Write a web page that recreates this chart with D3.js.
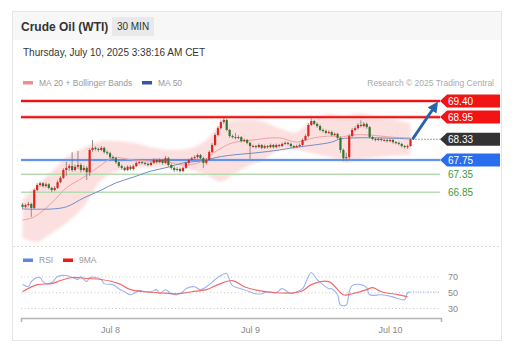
<!DOCTYPE html>
<html><head><meta charset="utf-8">
<script src="https://cdn.jsdelivr.net/npm/d3@7"></script>
<style>body{margin:0;background:#fff;}svg{display:block;font-family:"Liberation Sans",Arial,sans-serif;}</style>
</head><body>
<svg id="c" width="515" height="358"></svg>
<script>
// ---------- DATA ----------
const title = "Crude Oil (WTI)";
const timeframe = "30 MIN";
const stamp = "Thursday, July 10, 2025 3:38:16 AM CET";
const firstCandle = new Date(2025, 6, 7, 9, 0); // 30-min candles
const opens = [66.50,66.44,66.49,66.52,66.41,66.91,67.05,67.10,67.02,67.07,
66.97,66.91,66.97,67.13,67.25,67.47,67.53,67.58,67.47,67.56,
67.61,67.47,67.53,67.41,68.03,68.09,68.06,68.03,68.09,67.97,
67.94,67.83,67.80,67.69,67.58,67.53,67.47,67.56,67.50,67.58,
67.67,67.69,67.67,67.64,67.61,67.67,67.75,67.69,67.75,67.67,
67.80,67.61,67.53,67.47,67.50,67.44,67.53,67.67,67.75,67.80,
67.83,67.89,67.80,67.67,67.75,67.97,68.17,68.45,68.64,68.81,
68.87,68.59,68.42,68.39,68.37,68.39,68.28,68.31,68.23,68.14,
68.14,68.11,68.17,68.09,68.14,68.11,68.17,68.11,68.17,68.14,
68.20,68.23,68.20,68.14,68.11,68.14,68.17,68.31,68.42,68.73,
68.84,68.76,68.70,68.59,68.56,68.51,68.53,68.45,68.48,68.37,
68.03,67.80,67.83,68.42,68.59,68.64,68.73,68.70,68.76,68.67,
68.39,68.34,68.31,68.34,68.31,68.31,68.28,68.31,68.25,68.23,
68.20,68.14,68.11,68.14];
const closes = [66.44,66.49,66.52,66.41,66.91,67.05,67.10,67.02,67.07,66.97,
66.91,66.97,67.13,67.25,67.47,67.53,67.58,67.47,67.56,67.61,
67.47,67.53,67.41,68.03,68.09,68.06,68.03,68.09,67.97,67.94,
67.83,67.80,67.69,67.58,67.53,67.47,67.56,67.50,67.58,67.67,
67.69,67.67,67.64,67.61,67.67,67.75,67.69,67.75,67.67,67.80,
67.61,67.53,67.47,67.50,67.44,67.53,67.67,67.75,67.80,67.83,
67.89,67.80,67.67,67.75,67.97,68.17,68.45,68.64,68.81,68.87,
68.59,68.42,68.39,68.37,68.39,68.28,68.31,68.23,68.14,68.14,
68.11,68.17,68.09,68.14,68.11,68.17,68.11,68.17,68.14,68.20,
68.23,68.20,68.14,68.11,68.14,68.17,68.31,68.42,68.73,68.84,
68.76,68.70,68.59,68.56,68.51,68.53,68.45,68.48,68.37,68.03,
67.80,67.83,68.42,68.59,68.64,68.73,68.70,68.76,68.67,68.39,
68.34,68.31,68.34,68.31,68.31,68.28,68.31,68.25,68.23,68.20,
68.14,68.11,68.14,68.33];
const highs = [66.55,66.53,66.58,66.55,66.95,67.10,67.14,67.13,67.12,67.10,
67.00,67.02,67.18,67.30,67.52,67.70,67.64,67.97,67.62,68.00,
67.66,67.60,67.58,68.08,68.31,68.13,68.10,68.14,68.12,68.02,
67.98,67.88,67.84,67.72,67.62,67.57,67.60,67.60,67.62,67.71,
67.73,67.72,67.70,67.68,67.71,67.80,67.79,67.80,67.78,67.86,
67.84,67.65,67.57,67.55,67.54,67.57,67.71,67.79,67.84,67.88,
67.93,67.92,67.84,67.80,68.02,68.22,68.50,68.69,68.86,68.93,
68.90,68.62,68.46,68.50,68.44,68.42,68.35,68.34,68.26,68.18,
68.17,68.21,68.20,68.18,68.17,68.21,68.20,68.21,68.20,68.24,
68.27,68.26,68.23,68.17,68.18,68.21,68.35,68.47,68.78,68.92,
68.88,68.80,68.74,68.63,68.60,68.58,68.57,68.52,68.51,68.41,
68.07,67.95,68.47,68.64,68.69,68.78,68.86,68.81,68.80,68.70,
68.42,68.37,68.38,68.37,68.35,68.34,68.35,68.34,68.28,68.26,
68.23,68.17,68.18,68.35];
const lows = [66.38,66.40,66.45,66.16,66.38,66.88,67.00,66.98,66.98,66.93,
66.86,66.88,66.94,67.10,67.22,67.30,67.45,67.42,67.43,67.50,
67.40,67.43,67.19,67.30,67.98,68.01,67.98,68.00,67.93,67.89,
67.78,67.75,67.64,67.53,67.48,67.43,67.44,67.46,67.46,67.55,
67.63,67.63,67.60,67.57,67.58,67.63,67.65,67.66,67.62,67.64,
67.56,67.48,67.42,67.43,67.40,67.41,67.50,67.63,67.71,67.76,
67.79,67.76,67.53,67.62,67.72,67.94,68.14,68.41,68.60,68.76,
68.55,68.37,68.35,68.33,68.33,68.24,68.25,68.19,67.78,68.10,
68.07,68.08,68.05,68.06,68.07,68.08,68.07,68.08,68.10,68.11,
68.17,68.16,68.10,68.07,68.08,68.10,68.14,68.28,68.38,68.70,
68.72,68.65,68.55,68.52,68.47,68.48,68.41,68.42,68.33,67.95,
67.72,67.72,67.76,68.38,68.55,68.60,68.66,68.66,68.62,68.35,
68.30,68.27,68.28,68.27,68.27,68.24,68.25,68.21,68.19,68.16,
68.10,68.07,68.06,68.12];

// indicator readings (candle index, price)
const ma20Idx = [0,4,10,15,21,27,31,38,44,50,55,61,67,72,79,88,94,100,106,109,113,119,126,133];
const ma20 = [66.07,66.16,66.55,66.97,67.27,67.61,67.81,67.75,67.72,67.69,67.61,67.69,68.03,68.23,68.31,68.37,68.25,68.37,68.42,68.39,68.45,68.45,68.39,68.37];
const ma50Idx = [0,10,15,21,27,32,38,44,50,55,61,67,72,80,88,94,100,106,109,115,121,133];
const ma50 = [66.38,66.38,66.44,66.69,66.91,67.11,67.27,67.44,67.55,67.67,67.72,67.83,67.89,67.95,68.03,68.11,68.17,68.25,68.34,68.37,68.37,68.34];
const bbUpIdx = [0,5,10,15,21,27,32,38,44,52,58,63,68,75,82,88,94,98,102,105,110,116,122,128,133];
const bbUp = [66.63,67.05,67.42,67.83,68.09,68.28,68.28,68.23,68.11,68.03,68.09,68.31,68.76,68.87,68.84,68.64,68.53,68.78,68.95,69.04,68.98,69.06,68.95,68.87,68.78];
const bbLoIdx = [0,5,10,15,21,27,32,38,47,55,63,68,72,78,82,88,94,102,108,111,114,121,133];
const bbLo = [65.57,65.46,65.71,65.99,66.44,67.19,67.42,67.53,67.55,67.53,67.33,67.14,67.33,67.61,67.72,68.03,68.03,67.89,67.78,67.69,67.75,67.83,67.89];

// key levels
const resistances = [69.40, 68.95];
const lastPrice = 68.33;
const pivot = 67.75;
const supports = [67.35, 66.85];

// RSI readings (candle index, value)
const rsiIdx = [0,2,3,5,6,7,8,10,12,15,16,18,19,20,22,23,25,27,28,31,33,35,37,40,42,44,46,47,49,51,53,55,56,59,61,64,66,68,70,71,72,76,80,82,84,87,89,92,94,96,98,99,101,103,105,106,108,109,111,112,113,116,118,119,123,127,129,131,132,133];
const rsi = [60.7,57.7,64.2,69.4,69.4,64.2,61.6,62.9,70.6,71.9,70.6,68.1,66.8,70.6,64.2,69.4,69.4,66.8,61.6,60.3,55.2,51.3,47.4,52.6,51.3,51.3,53.9,48.7,53.9,48.7,47.4,51.3,55.2,57.7,53.9,60.3,66.8,71.9,74.5,65.5,59.0,53.9,48.7,48.7,51.3,50.0,55.2,48.7,51.3,55.2,70.6,75.8,66.8,60.3,55.2,55.2,47.4,34.5,34.5,51.3,59.0,60.3,56.5,47.4,47.4,44.8,42.3,41.0,50.0,51.0];
const rsiMaIdx = [0,5,10,13,17,22,27,33,37,42,47,53,58,63,67,72,76,81,87,93,96,99,105,110,113,118,120,123,129,132];
const rsiMa = [51.3,60.3,61.6,65.5,69.4,68.1,66.8,61.6,53.9,51.3,50.0,48.7,51.3,53.9,60.3,65.5,57.7,52.6,50.0,50.0,52.6,60.3,64.2,47.4,48.7,53.9,56.5,51.3,47.4,44.8];
const rsiLevels = [70, 50, 30];
const dayTicks = [new Date(2025,6,8), new Date(2025,6,9), new Date(2025,6,10)];

// ---------- DRAW ----------
const svg = d3.select("#c");
const t = i => new Date(firstCandle.getTime() + i * 30 * 60000);
const x = d3.scaleTime().domain([new Date(2025,6,7,8,44), new Date(2025,6,10,8,44)]).range([21, 441]);
const y = d3.scaleLinear().domain([67.75, 69.40]).range([160, 101]);
const yr = d3.scaleLinear().domain([30, 70]).range([308.5, 277]);
const L = 21, R = 440;

// card
svg.append("rect").attr("x",12.5).attr("y",11.5).attr("width",489).attr("height",329).attr("fill","#fff").attr("stroke","#e6e6e6");
svg.append("rect").attr("x",13).attr("y",12).attr("width",488).attr("height",28).attr("fill","#f7f7f7");
svg.append("text").attr("x",21).attr("y",31).attr("font-size",12).attr("font-weight","bold").attr("fill","#333").text(title);
svg.append("rect").attr("x",112).attr("y",17).attr("width",42).attr("height",19).attr("fill","#e9e9e9");
svg.append("text").attr("x",133).attr("y",30).attr("text-anchor","middle").attr("font-size",10).attr("fill","#333").text(timeframe);
svg.append("text").attr("x",23).attr("y",55.5).attr("font-size",10).attr("fill","#333").text(stamp);

// legend
const lg = [{c:"#f38b8b",t:"MA 20 + Bollinger Bands",x:23},{c:"#2d5aa0",t:"MA 50",x:142}];
lg.forEach(d=>{
  svg.append("rect").attr("x",d.x).attr("y",81).attr("width",10).attr("height",3.5).attr("fill",d.c);
  svg.append("text").attr("x",d.x+16).attr("y",86).attr("font-size",8.5).attr("fill","#999").text(d.t);
});
svg.append("text").attr("x",494).attr("y",86).attr("text-anchor","end").attr("font-size",8.5).attr("fill","#aaa").text("Research © 2025 Trading Central");

// defs
const defs = svg.append("defs");
defs.append("filter").attr("id","blur").append("feGaussianBlur").attr("stdDeviation",1.6);

// Bollinger band
const pts = (idx, vals) => idx.map((i,k)=>[x(t(i)), y(vals[k])]);
const up = pts(bbUpIdx, bbUp), lo = pts(bbLoIdx, bbLo).reverse();
const ln = d3.line().curve(d3.curveCatmullRom);
svg.append("path").attr("d", ln(up) + "L" + ln(lo).slice(1) + "Z")
  .attr("fill","#fcdcdc").attr("opacity",0.9).attr("filter","url(#blur)");

// level lines
resistances.forEach(v=>{
  svg.append("line").attr("x1",L).attr("x2",R).attr("y1",y(v)).attr("y2",y(v)).attr("stroke","#ff9a9a").attr("stroke-width",3.2);
  svg.append("line").attr("x1",L).attr("x2",R).attr("y1",y(v)).attr("y2",y(v)).attr("stroke","#f01010").attr("stroke-width",1.8);
});
svg.append("line").attr("x1",L).attr("x2",R).attr("y1",y(pivot)).attr("y2",y(pivot)).attr("stroke","#a9c4f5").attr("stroke-width",2.6);
svg.append("line").attr("x1",L).attr("x2",R).attr("y1",y(pivot)).attr("y2",y(pivot)).attr("stroke","#4d84ee").attr("stroke-width",1.3);
supports.forEach(v=>{
  svg.append("line").attr("x1",L).attr("x2",R).attr("y1",y(v)).attr("y2",y(v)).attr("stroke","#b6dbb0").attr("stroke-width",1.4);
});

// MAs
svg.append("path").attr("d", ln(pts(ma20Idx, ma20))).attr("fill","none").attr("stroke","#f5a0a0").attr("stroke-width",1);
svg.append("path").attr("d", ln(pts(ma50Idx, ma50))).attr("fill","none").attr("stroke","#6f8fc8").attr("stroke-width",1);

// candles
const candles = closes.map((c,i)=>({i, o:opens[i], c, h:highs[i], l:lows[i]}));
const g = svg.append("g");
g.selectAll("line.w").data(candles).join("line")
  .attr("x1",d=>x(t(d.i))).attr("x2",d=>x(t(d.i))).attr("y1",d=>y(d.h)).attr("y2",d=>y(d.l))
  .attr("stroke","#777").attr("stroke-width",0.8);
g.selectAll("rect").data(candles).join("rect")
  .attr("x",d=>x(t(d.i))-1.1).attr("width",2.2)
  .attr("y",d=>y(Math.max(d.o,d.c))).attr("height",d=>Math.max(1,Math.abs(y(d.o)-y(d.c))))
  .attr("fill",d=>d.c>=d.o?"#e3241c":"#2f7a2a");

// last price dotted
const lastX = x(t(closes.length-1));
svg.append("line").attr("x1",lastX+2).attr("x2",R).attr("y1",y(lastPrice)).attr("y2",y(lastPrice))
  .attr("stroke","#445").attr("stroke-width",1).attr("stroke-dasharray","1,2");

// arrow
defs.append("marker").attr("id","ah").attr("viewBox","0 0 10 10").attr("refX",5).attr("refY",5)
  .attr("markerWidth",3.6).attr("markerHeight",3.6).attr("orient","auto")
  .append("path").attr("d","M0,0L10,5L0,10Z").attr("fill","#2b63aa");
svg.append("line").attr("x1",lastX+2).attr("y1",y(lastPrice)).attr("x2",R-5).attr("y2",y(resistances[0])+5)
  .attr("stroke","#2b63aa").attr("stroke-width",3).attr("marker-end","url(#ah)");

// tags
function tag(v, fill, color){
  const yy = y(v);
  if (fill) svg.append("path").attr("d",`M${R},${yy}L${R+7},${yy-6.5}L500,${yy-6.5}L500,${yy+6.5}L${R+7},${yy+6.5}Z`).attr("fill",fill);
  svg.append("text").attr("x",448).attr("y",yy+3.6).attr("font-size",10).attr("fill",color).text(v.toFixed(2));
}
resistances.forEach(v=>tag(v,"#f21414","#fff"));
tag(lastPrice,"#333","#fff");
tag(pivot,"#2a6ef0","#fff");
supports.forEach(v=>tag(v,null,"#3f9a3a"));

// separator
svg.append("line").attr("x1",13).attr("x2",500).attr("y1",246.5).attr("y2",246.5).attr("stroke","#ddd").attr("stroke-dasharray","2,2");

// RSI legend
[{c:"#5b86e5",t:"RSI",x:23},{c:"#f01818",t:"9MA",x:63}].forEach(d=>{
  svg.append("rect").attr("x",d.x).attr("y",258.5).attr("width",10).attr("height",3.5).attr("fill",d.c);
  svg.append("text").attr("x",d.x+16).attr("y",263).attr("font-size",8.5).attr("fill","#999").text(d.t);
});
rsiLevels.forEach(v=>{
  svg.append("line").attr("x1",L).attr("x2",R).attr("y1",yr(v)).attr("y2",yr(v)).attr("stroke","#c8c8c8").attr("stroke-dasharray","1,2.5");
  svg.append("text").attr("x",448).attr("y",yr(v)+3.3).attr("font-size",9).attr("fill","#888").text(v);
});
const lnr = d3.line().curve(d3.curveCatmullRom);
const rp = (idx, vals) => idx.map((i,k)=>[x(t(i)), yr(vals[k])]);
svg.append("path").attr("d", lnr(rp(rsiIdx, rsi))).attr("fill","none").attr("stroke","#9db4f0").attr("stroke-width",1.1);
svg.append("path").attr("d", lnr(rp(rsiMaIdx, rsiMa))).attr("fill","none").attr("stroke","#f36a6a").attr("stroke-width",1.2);
svg.append("line").attr("x1",lastX).attr("x2",R).attr("y1",yr(rsi[rsi.length-1])).attr("y2",yr(rsi[rsi.length-1]))
  .attr("stroke","#9db4f0").attr("stroke-dasharray","1,1.5");

// x axis
const ax = svg.append("g").attr("transform","translate(0,318)")
  .call(d3.axisBottom(x).tickValues(dayTicks).tickFormat(d3.timeFormat("%b %-d")).tickSize(0).tickSizeOuter(4).tickPadding(9));
ax.select(".domain").attr("stroke","#b5b5b5").attr("stroke-width",1.5);
ax.selectAll("text").attr("font-size",9).attr("fill","#888").attr("font-family","'Liberation Sans',Arial,sans-serif");
</script>
</body></html>
